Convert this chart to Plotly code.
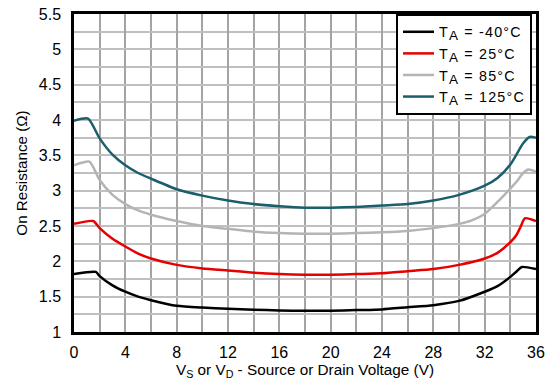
import plotly.graph_objects as go

# -40 C
v_m40 = [0, 1.7, 2, 3, 4, 5, 6, 8, 10, 12, 14, 16, 18, 20, 22, 24, 26, 28, 30, 32, 33, 34, 34.5, 34.9, 36]
r_m40 = [1.82, 1.85, 1.79, 1.66, 1.57, 1.50, 1.45, 1.37, 1.345, 1.33, 1.315, 1.305, 1.30, 1.30, 1.31, 1.32, 1.35, 1.38, 1.44, 1.57, 1.65, 1.78, 1.86, 1.92, 1.89]
# 25 C
v_25 = [0, 1.5, 2, 3, 4, 5, 6, 8, 10, 12, 14, 16, 18, 20, 22, 24, 26, 28, 30, 32, 33, 34, 34.5, 34.8, 35.15, 36]
r_25 = [2.53, 2.57, 2.47, 2.32, 2.21, 2.11, 2.04, 1.95, 1.90, 1.87, 1.84, 1.82, 1.81, 1.81, 1.82, 1.83, 1.86, 1.89, 1.95, 2.04, 2.12, 2.27, 2.38, 2.49, 2.61, 2.57]
# 85 C
v_85 = [0, 1.2, 2, 3, 4, 5, 6, 8, 10, 12, 14, 16, 18, 20, 22, 24, 26, 28, 30, 31, 32, 33, 34, 34.5, 35, 35.4, 36]
r_85 = [3.36, 3.41, 3.15, 2.94, 2.81, 2.72, 2.66, 2.57, 2.50, 2.46, 2.42, 2.40, 2.39, 2.39, 2.40, 2.41, 2.43, 2.47, 2.53, 2.58, 2.67, 2.84, 3.03, 3.13, 3.25, 3.30, 3.27]
# 125 C
v_125 = [0, 1.1, 2, 3, 4, 5, 6, 8, 10, 12, 14, 16, 18, 20, 22, 24, 26, 28, 30, 32, 33, 34, 35, 35.5, 36]
r_125 = [3.99, 4.02, 3.74, 3.51, 3.36, 3.25, 3.17, 3.02, 2.93, 2.86, 2.81, 2.78, 2.76, 2.76, 2.77, 2.79, 2.81, 2.86, 2.94, 3.07, 3.18, 3.37, 3.67, 3.76, 3.75]

temps = ["-40°C", "25°C", "85°C", "125°C"]
names = ["<span style='letter-spacing:1.2px'>T<sub><span style='font-size:13.5px'>A</span></sub> = " + t + "</span>"
         for t in temps]
colors = ["#000000", "#e60000", "#b4b4b4", "#1b5e6c"]

x_ticks = list(range(0, 37, 4))
y_ticks = [1, 1.5, 2, 2.5, 3, 3.5, 4, 4.5, 5, 5.5]

fig = go.Figure()
for xs, ys, n, c in zip([v_m40, v_25, v_85, v_125], [r_m40, r_25, r_85, r_125], names, colors):
    fig.add_trace(go.Scatter(x=xs, y=ys, name=n, mode="lines",
                             line=dict(color=c, width=2.5, shape="spline", smoothing=0.6)))

font = "Liberation Sans, Arial, sans-serif"
fig.update_layout(
    width=554, height=388,
    margin=dict(l=74, r=18, t=14, b=56, autoexpand=False),
    paper_bgcolor="white", plot_bgcolor="white",
    font=dict(family=font, size=16, color="#000"),
    showlegend=True,
    legend=dict(x=0.697, y=1.0, xanchor="left", yanchor="top",
                bgcolor="white", bordercolor="black", borderwidth=2,
                font=dict(size=14.3), tracegroupgap=0, itemwidth=31),
    xaxis=dict(range=[0, 36], tickvals=x_ticks, showgrid=True, gridcolor="#a4a4a4", gridwidth=1.5,
               minor=dict(dtick=2, tick0=0, showgrid=True, gridcolor="#a4a4a4", gridwidth=1.5),
               showline=True, linecolor="black", linewidth=2.5, mirror=True,
               ticks="outside", ticklen=4, tickcolor="rgba(0,0,0,0)",
               zeroline=False, automargin=False,
               title=dict(text="V<sub>S</sub> or V<sub>D</sub> - Source or Drain Voltage (V)", standoff=2,
                          font=dict(size=15.3))),
    yaxis=dict(range=[1, 5.5], tickvals=y_ticks, showgrid=True, gridcolor="#c0c0c0", gridwidth=1.5,
               minor=dict(dtick=0.25, tick0=1, showgrid=True, gridcolor="#c0c0c0", gridwidth=1.5),
               showline=True, linecolor="black", linewidth=2.5, mirror=True,
               ticks="outside", ticklen=7, tickcolor="rgba(0,0,0,0)",
               zeroline=False, automargin=False,
               title=dict(text="On Resistance (Ω)", standoff=8, font=dict(size=15.2))),
)

fig.write_html("out.html", config={"displayModeBar": False},
               post_script="document.body.style.margin='0';document.body.style.padding='0';")
